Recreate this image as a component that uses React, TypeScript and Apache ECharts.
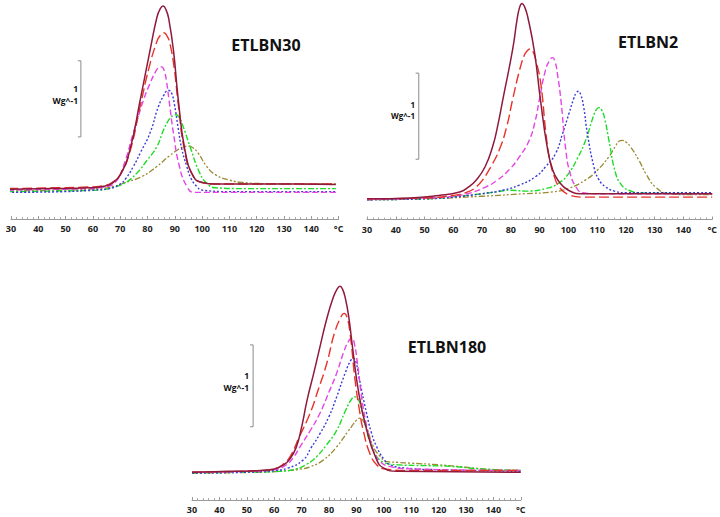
import React, { useEffect, useRef } from "react";
import * as echarts from "echarts";

type Pt = [number, number];

// ---- Tick labels (°C) ----
const TICKS = [30, 40, 50, 60, 70, 80, 90, 100, 110, 120, 130, 140, 150];
const UNIT_LABEL = "°C";
const PANEL_TITLES = ["ETLBN30", "ETLBN2", "ETLBN180"];

// ---- ETLBN30 (heat flow, W/g above baseline) ----
const A_DARKRED: Pt[] = [[29,0.01],[45,0.02],[58,0.03],[64,0.05],[67,0.09],[70,0.2],[73.5,0.52],[77.3,1.18],[81,1.85],[83.5,2.28],[84.6,2.38],[85.7,2.42],[86.8,2.37],[87.8,2.25],[89.5,1.84],[91.3,1.18],[93.7,0.53],[96.8,0.18],[100,0.1],[105,0.08],[120,0.08],[135,0.08],[149,0.075]];
const A_RED: Pt[] = [[29,0.02],[45,0.03],[58,0.04],[64,0.06],[67,0.1],[70,0.2],[73.5,0.5],[77.3,1.1],[80.5,1.6],[83.5,1.96],[84.8,2.04],[86,2.07],[87.1,2.03],[88.2,1.93],[89.8,1.6],[91.3,1.12],[93.7,0.5],[96.8,0.18],[100,0.1],[105,0.08],[120,0.08],[149,0.08]];
const A_MAGENTA: Pt[] = [[29,0.0],[45,0.01],[58,0.02],[64,0.04],[68.1,0.1],[71.1,0.31],[74.8,0.75],[78.5,1.18],[80.9,1.4],[83,1.56],[84.1,1.61],[85.2,1.62],[86.2,1.56],[87,1.42],[87.9,1.18],[89.5,0.75],[91.7,0.31],[94.4,0.05],[97,-0.03],[110,-0.03],[149,-0.03]];
const A_BLUE: Pt[] = [[29,-0.03],[50,-0.02],[60,0.0],[66,0.02],[70,0.08],[72,0.15],[74.8,0.31],[77.5,0.5],[80.9,0.75],[84,1.1],[86,1.25],[86.9,1.3],[87.9,1.31],[88.9,1.27],[89.9,1.12],[91.3,0.8],[92.5,0.55],[94.4,0.31],[96,0.15],[98,0.05],[100,0.0],[110,-0.02],[149,-0.02]];
const A_GREEN: Pt[] = [[29,-0.02],[50,-0.01],[62,0.0],[68,0.04],[72,0.1],[76,0.22],[80,0.4],[83.4,0.57],[86,0.8],[88.3,0.95],[89.4,0.98],[90.4,0.99],[91.5,0.96],[92.7,0.87],[95.6,0.57],[99.2,0.22],[102,0.08],[105,0.03],[115,0.02],[149,0.02]];
const A_OLIVE: Pt[] = [[29,-0.01],[50,0.0],[62,0.02],[68,0.05],[71.1,0.09],[78,0.18],[83.4,0.31],[88,0.45],[91.5,0.54],[93.3,0.57],[94.9,0.58],[96.5,0.56],[98.5,0.49],[101.7,0.31],[105,0.2],[110.2,0.13],[115,0.1],[125,0.085],[149,0.08]];

// ---- ETLBN2 ----
const B_DARKRED: Pt[] = [[30,-0.01],[45,0.0],[55,0.03],[62.2,0.07],[65,0.12],[68,0.21],[71,0.36],[73.7,0.6],[75.5,0.85],[77.2,1.14],[80.6,1.72],[82.2,2.08],[83.1,2.22],[83.9,2.26],[84.8,2.22],[85.9,2.1],[88.2,1.7],[90.3,1.14],[92.6,0.6],[94.5,0.33],[96.5,0.2],[100,0.09],[105,0.05],[150,0.05]];
const B_RED: Pt[] = [[30,-0.01],[50,0.0],[60,0.03],[65,0.07],[68,0.13],[70.2,0.21],[73,0.36],[76,0.56],[78.5,0.82],[80.6,1.14],[83,1.48],[84.7,1.66],[85.7,1.71],[86.7,1.73],[87.7,1.7],[88.7,1.6],[90.4,1.33],[92.2,0.75],[93.5,0.45],[95.1,0.25],[97,0.12],[100,0.04],[105,0.01],[150,0.01]];
const B_MAGENTA: Pt[] = [[30,-0.02],[50,0.0],[60,0.02],[66,0.06],[71.4,0.13],[75,0.2],[79.5,0.33],[83,0.48],[86.4,0.67],[88.5,0.9],[89.9,1.14],[92,1.48],[93.5,1.6],[94.5,1.63],[95.4,1.58],[96.3,1.42],[97.4,1.14],[99.1,0.56],[100.5,0.3],[102.6,0.13],[105,0.06],[110,0.05],[150,0.05]];
const B_BLUE: Pt[] = [[30,-0.02],[50,-0.01],[60,0.01],[70,0.05],[77.2,0.09],[83,0.15],[88.7,0.25],[92,0.36],[95.6,0.52],[98,0.75],[100.2,0.98],[101.8,1.15],[102.7,1.22],[103.5,1.24],[104.3,1.2],[105.3,1.06],[106.6,0.75],[108.9,0.36],[110.5,0.22],[112.9,0.13],[116,0.08],[120,0.06],[150,0.06]];
const B_GREEN: Pt[] = [[30,-0.02],[50,-0.01],[65,0.03],[75,0.07],[80,0.09],[85,0.08],[92.2,0.11],[97,0.18],[100.2,0.29],[103,0.45],[106,0.67],[108.3,0.91],[109.6,1.02],[110.6,1.05],[111.6,1.02],[112.7,0.91],[114.1,0.67],[116.4,0.29],[118.5,0.15],[121,0.09],[125,0.06],[150,0.05]];
const B_OLIVE: Pt[] = [[30,-0.02],[50,-0.01],[70,0.02],[85,0.05],[94.5,0.07],[100,0.11],[106,0.21],[110,0.32],[114.1,0.48],[116.5,0.61],[117.6,0.66],[118.7,0.67],[120,0.65],[121.5,0.6],[124.5,0.44],[127,0.28],[130.2,0.13],[134.8,0.05],[140,0.04],[150,0.04]];

// ---- ETLBN180 ----
const C_DARKRED: Pt[] = [[30,0.0],[45,0.01],[55,0.02],[60,0.04],[63,0.08],[65.5,0.15],[68,0.3],[70,0.55],[72,0.88],[74.5,1.22],[76.7,1.53],[79,1.85],[81.5,2.13],[83,2.24],[84,2.27],[85,2.23],[86,2.12],[87.2,1.9],[88.5,1.55],[90.7,1.0],[93.8,0.51],[97.4,0.15],[100,0.05],[105,0.01],[150,0.0]];
const C_RED: Pt[] = [[30,0.0],[45,0.01],[55,0.02],[60,0.04],[63,0.09],[65.8,0.19],[69,0.42],[73.1,0.72],[76,1.0],[79.2,1.33],[82,1.7],[84.4,1.9],[85.5,1.94],[86.5,1.9],[87.6,1.72],[89.5,1.13],[91,0.78],[92.5,0.51],[95,0.22],[97.4,0.09],[100,0.04],[110,0.02],[150,0.02]];
const C_MAGENTA: Pt[] = [[30,0.0],[50,0.01],[60,0.03],[64,0.08],[67,0.18],[69.4,0.31],[73,0.5],[76.7,0.72],[80,0.98],[82.8,1.21],[85.5,1.48],[87.3,1.61],[88.3,1.64],[89.2,1.58],[90.3,1.35],[91.9,0.92],[93.5,0.6],[95,0.39],[96.8,0.22],[98.6,0.13],[102,0.07],[110,0.04],[150,0.02]];
const C_BLUE: Pt[] = [[30,-0.01],[50,0.0],[60,0.02],[65,0.05],[70.6,0.15],[73.5,0.3],[76.7,0.47],[80,0.68],[82.8,0.92],[86,1.22],[88,1.37],[88.9,1.39],[89.8,1.35],[91,1.15],[93.7,0.72],[95.5,0.48],[97.4,0.31],[100,0.16],[102.3,0.09],[108,0.05],[120,0.03],[150,0.01]];
const C_GREEN: Pt[] = [[30,-0.01],[50,0.0],[62,0.01],[68,0.04],[72,0.1],[75.5,0.19],[79,0.33],[82.8,0.51],[86,0.75],[88.4,0.9],[89.5,0.92],[90.5,0.9],[91.7,0.79],[93.7,0.51],[95.5,0.32],[97.4,0.19],[100,0.12],[105,0.09],[115,0.08],[125,0.07],[135,0.04],[150,0.02]];
const C_OLIVE: Pt[] = [[30,-0.01],[55,0.0],[65,0.02],[70,0.04],[73.1,0.065],[78,0.15],[82.8,0.31],[87,0.5],[90.2,0.64],[91.3,0.66],[92.4,0.63],[93.8,0.54],[96.2,0.31],[98.5,0.2],[101.1,0.13],[105,0.12],[110,0.11],[120,0.09],[130,0.06],[140,0.03],[150,0.02]];

// ---- Scale bars: 1 W/g, [x (°C), bottom, top] ----
const SCALE_BARS: [number, number, number][] = [[55.6, 0.7, 1.7], [48.0, 0.45, 1.45], [52.3, 0.555, 1.555]];

const STYLES = [
  { name: "darkred", color: "#8e1a3c", dash: "solid" as any, width: 1.5 },
  { name: "red", color: "#e8332b", dash: [10, 4], width: 1.4 },
  { name: "magenta", color: "#e545e5", dash: [6, 3], width: 1.4 },
  { name: "blue", color: "#3a3ad6", dash: [2, 2], width: 1.4 },
  { name: "green", color: "#1fdc2a", dash: [6, 2, 2, 2], width: 1.4 },
  { name: "olive", color: "#9a8a32", dash: [6, 2, 2, 2, 2, 2], width: 1.3 },
];

const PANELS: Pt[][][] = [
  [A_DARKRED, A_RED, A_MAGENTA, A_BLUE, A_GREEN, A_OLIVE],
  [B_DARKRED, B_RED, B_MAGENTA, B_BLUE, B_GREEN, B_OLIVE],
  [C_DARKRED, C_RED, C_MAGENTA, C_BLUE, C_GREEN, C_OLIVE],
];

export default function App() {
  const ref = useRef<HTMLDivElement>(null);
  useEffect(() => {
    if (!ref.current) return;
    const chart = echarts.init(ref.current, undefined, { renderer: "svg" });
    const font = "'Open Sans', 'Liberation Sans', sans-serif";

    const grids = [
      { left: 11, width: 327.6, top: 0, height: 219 },
      { left: 367, width: 346.8, top: 0, height: 219.5 },
      { left: 192, width: 328.8, top: 270, height: 230 },
    ];
    const yRanges = [
      [-0.38, 2.5],
      [-0.25, 2.3],
      [-0.34, 2.47],
    ];

    const xAxes = grids.map((_, i) => ({
      type: "value",
      gridIndex: i,
      min: 30,
      max: 150,
      interval: 10,
      splitLine: { show: false },
      axisLine: { show: true, onZero: false, lineStyle: { color: "#9a9a9a", width: 1 } },
      axisTick: { show: true, inside: true, length: 3, lineStyle: { color: "#9a9a9a" } },
      minorTick: { show: true, splitNumber: 5, length: 2, lineStyle: { color: "#a8a8a8" } },
      axisLabel: {
        show: true,
        showMinLabel: true,
        showMaxLabel: true,
        margin: 5,
        color: "#222",
        fontSize: 9,
        fontWeight: "bold",
        fontFamily: font,
        formatter: (v: number) => (v === 150 ? UNIT_LABEL : String(v)),
      },
    }));
    const yAxes = grids.map((_, i) => ({
      type: "value",
      gridIndex: i,
      min: yRanges[i][0],
      max: yRanges[i][1],
      show: false,
      splitLine: { show: false },
    }));

    const series: any[] = [];
    PANELS.forEach((curves, gi) => {
      for (let k = curves.length - 1; k >= 0; k--) {
        const st = STYLES[k];
        series.push({
          type: "line",
          name: `${PANEL_TITLES[gi]}-${st.name}`,
          xAxisIndex: gi,
          yAxisIndex: gi,
          data: curves[k],
          symbol: "none",
          smooth: 0.5,
          lineStyle: { color: st.color, width: st.width, type: st.dash },
          silent: true,
        });
      }
      const [bx, b0, b1] = SCALE_BARS[gi];
      series.push({
        type: "line",
        name: `${PANEL_TITLES[gi]}-scale`,
        xAxisIndex: gi,
        yAxisIndex: gi,
        data: [[bx - 1.1, b1], [bx, b1], [bx, b0], [bx - 1.1, b0]],
        symbol: "none",
        lineStyle: { color: "#8a8a8a", width: 1 },
        silent: true,
      });
    });

    const txt = (x: number, y: number, text: string, size: number, align: string) => ({
      type: "text",
      x,
      y,
      style: {
        text,
        fill: "#111",
        font: `bold ${size}px ${font}`,
        lineHeight: size,
        textAlign: align,
        textVerticalAlign: "middle",
      },
    });

    chart.setOption({
      animation: false,
      backgroundColor: "#ffffff",
      grid: grids.map((g) => ({ ...g, containLabel: false })),
      xAxis: xAxes,
      yAxis: yAxes,
      series,
      graphic: [
        txt(266, 45, PANEL_TITLES[0], 16, "center"),
        txt(648, 42, PANEL_TITLES[1], 16, "center"),
        txt(447, 347, PANEL_TITLES[2], 16, "center"),
        txt(78, 88, "1", 8.5, "right"),
        txt(78, 100, "Wg^-1", 8.5, "right"),
        txt(415, 104, "1", 8, "right"),
        txt(415, 115, "Wg^-1", 8, "right"),
        txt(249, 375, "1", 8.5, "right"),
        txt(249, 387.5, "Wg^-1", 8.5, "right"),
      ],
    });
    return () => chart.dispose();
  }, []);
  return (
    <div
      ref={ref}
      style={{ position: "fixed", left: 0, top: 0, width: 720, height: 517, background: "#fff" }}
    />
  );
}
